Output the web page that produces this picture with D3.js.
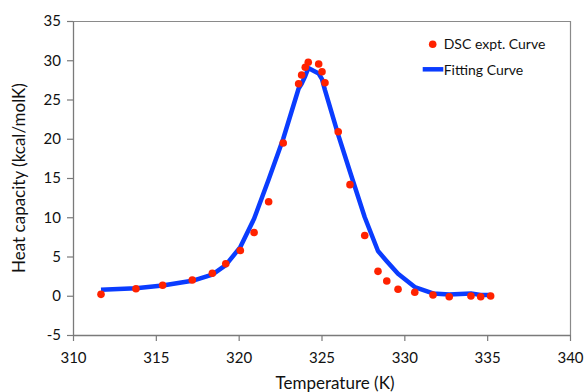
<!DOCTYPE html>
<html>
<head>
<meta charset="utf-8">
<script src="https://cdn.jsdelivr.net/npm/d3@7"></script>
<style>
  body { margin: 0; background: #fff; }
  text { font-family: Lato, "Open Sans", sans-serif; fill: #111; }
</style>
</head>
<body>
<div id="chart-area"></div>
<script>
// experimental DSC points (temperature K, heat capacity)
var exptT  = [311.69, 313.80, 315.41, 317.20, 318.41, 319.22, 320.10, 320.93, 321.81, 322.69,
              323.62, 323.80, 324.02, 324.20, 324.83, 325.03, 325.21, 326.01, 326.72, 327.61,
              328.41, 328.94, 329.62, 330.63, 331.73, 332.71, 334.02, 334.61, 335.21];
var exptCp = [0.18, 0.90, 1.33, 2.01, 2.86, 4.08, 5.76, 8.06, 11.97, 19.46,
              27.01, 28.12, 29.10, 29.74, 29.52, 28.54, 27.14, 20.89, 14.15, 7.68,
              3.11, 1.88, 0.82, 0.44, 0.10, -0.12, -0.03, -0.12, -0.03];
// fitting curve evaluated at the same temperatures
var fitCp  = [0.75, 0.95, 1.3, 1.9, 2.7, 3.9, 6.2, 9.8, 14.8, 20.0,
              26.4, 27.0, 28.0, 29.0, 28.3, 27.6, 26.2, 20.5, 15.8, 10.0,
              5.7, 4.4, 2.8, 1.1, 0.3, 0.15, 0.3, 0.1, 0.1];
var xTicks = [310, 315, 320, 325, 330, 335, 340];
var yTicks = [-5, 0, 5, 10, 15, 20, 25, 30, 35];

var margin = { left: 73, right: 17, top: 21, bottom: 57 };
var W = 587, H = 392;
var width = W - margin.left - margin.right;
var height = H - margin.top - margin.bottom;

var svg = d3.select("#chart-area").append("svg")
    .attr("width", W)
    .attr("height", H);

var g = svg.append("g")
    .attr("transform", "translate(" + margin.left + "," + margin.top + ")");

var x = d3.scaleLinear().domain([310, 340]).range([0, width]);
var y = d3.scaleLinear().domain([-5, 35]).range([height, 0]);

// frame (top and right)
g.append("path")
    .attr("d", "M0,0.5H" + (width + 0.5) + "V" + height)
    .attr("fill", "none")
    .attr("stroke", "#8a8a8a")
    .attr("stroke-width", 1.2);

var xAxis = g.append("g")
    .attr("transform", "translate(0," + height + ")")
    .call(d3.axisBottom(x).tickValues(xTicks).tickSize(6).tickSizeOuter(0).tickPadding(7)
        .tickFormat(d => String(d)));

var yAxis = g.append("g")
    .call(d3.axisLeft(y).tickValues(yTicks).tickSize(6).tickSizeOuter(0).tickPadding(6)
        .tickFormat(d => String(d))); // plain hyphen for -5, like the original

[xAxis, yAxis].forEach(a => {
    a.select(".domain").attr("stroke", "#7a7a7a").attr("stroke-width", 1.3);
    a.selectAll(".tick line").attr("stroke", "#7a7a7a").attr("stroke-width", 1.2);
    a.selectAll(".tick text")
        .attr("font-family", "Lato, 'Open Sans', sans-serif")
        .attr("font-size", "15px")
        .attr("fill", "#111");
});
xAxis.selectAll(".tick text").attr("dy", "1em");

// axis titles
g.append("text")
    .attr("x", 262)
    .attr("y", height + 54)
    .attr("font-size", "17px")
    .attr("text-anchor", "middle")
    .text("Temperature (K)");

g.append("text")
    .attr("transform", "rotate(-90)")
    .attr("x", -(height / 2))
    .attr("y", -48)
    .attr("font-size", "17px")
    .attr("text-anchor", "middle")
    .text("Heat capacity (kcal/molK)");

// fitting curve
var line = d3.line()
    .x((d, i) => x(exptT[i]))
    .y(d => y(d));

g.append("path")
    .datum(fitCp)
    .attr("d", line)
    .attr("fill", "none")
    .attr("stroke", "#0a3cff")
    .attr("stroke-width", 4.5)
    .attr("stroke-linejoin", "round");

// experimental points
g.selectAll("circle.pt")
    .data(exptCp)
    .enter().append("circle")
    .attr("class", "pt")
    .attr("cx", (d, i) => x(exptT[i]))
    .attr("cy", d => y(d))
    .attr("r", 3.8)
    .attr("fill", "#ff2200");

// legend
var leg = g.append("g").attr("transform", "translate(" + (432.7 - margin.left) + "," + (44.3 - margin.top) + ")");
leg.append("circle").attr("cx", 0).attr("cy", 0).attr("r", 3.8).attr("fill", "#ff2200");
leg.append("text").attr("x", 11).attr("y", 5).attr("font-size", "14px").text("DSC expt. Curve");
leg.append("line")
    .attr("x1", -10).attr("x2", 10.6).attr("y1", 25).attr("y2", 25)
    .attr("stroke", "#0a3cff").attr("stroke-width", 4.5);
leg.append("text").attr("x", 11).attr("y", 31).attr("font-size", "14px").text("Fitting Curve");
</script>
</body>
</html>
